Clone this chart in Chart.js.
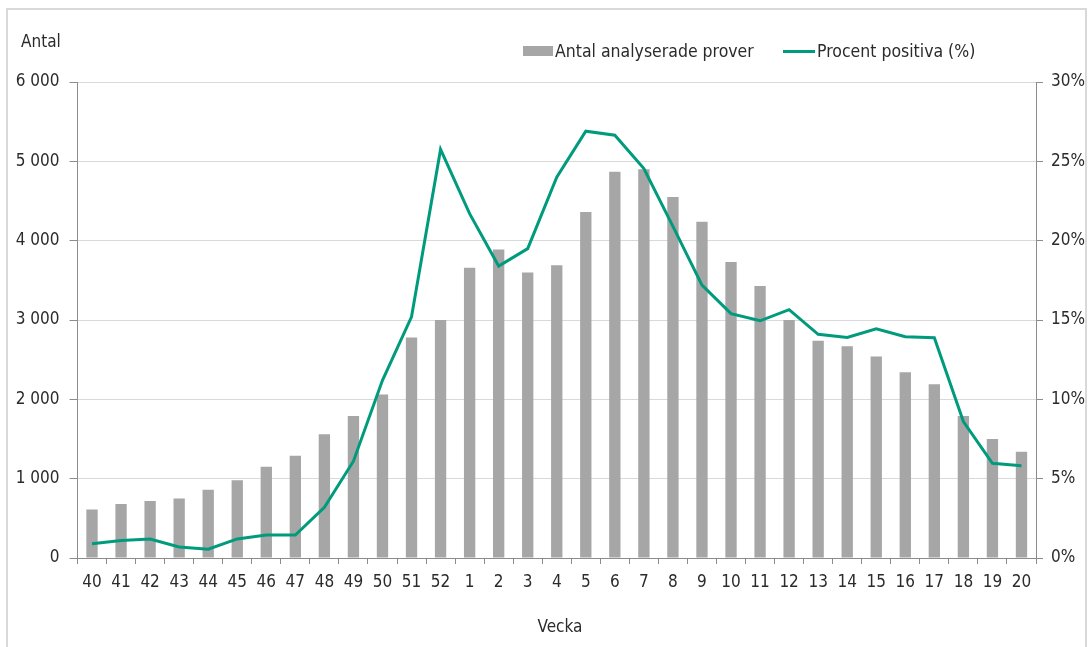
<!DOCTYPE html>
<html lang="sv">
<head>
<meta charset="utf-8">
<title>Antal analyserade prover och procent positiva per vecka</title>
<script src="https://cdn.jsdelivr.net/npm/chart.js@4/dist/chart.umd.min.js"></script>
<style>
  html, body { margin: 0; padding: 0; background: #ffffff; }
  #wrap { width: 1092px; height: 647px; position: relative; }
  canvas { display: block; }
</style>
</head>
<body>
<div id="wrap"><canvas id="chart" width="1092" height="647"></canvas></div>
<script>
// Veckor (säsong v40 – v20)
const weeks = ['40','41','42','43','44','45','46','47','48','49','50','51','52',
               '1','2','3','4','5','6','7','8','9','10','11','12','13','14','15','16','17','18','19','20'];

// Antal analyserade prover per vecka
const samples = [610, 680, 720, 750, 860, 980, 1150, 1290, 1560, 1790, 2060, 2780, 3000,
                 3660, 3890, 3600, 3690, 4360, 4870, 4900, 4550, 4240, 3730, 3430, 3000,
                 2740, 2670, 2540, 2340, 2190, 1790, 1500, 1340];

// Procent positiva (%) per vecka
const positivePct = [0.9, 1.1, 1.2, 0.7, 0.55, 1.2, 1.45, 1.45, 3.2, 6.1, 11.2, 15.2, 25.75,
                     21.7, 18.4, 19.5, 24.0, 26.9, 26.65, 24.55, 20.9, 17.2, 15.4, 14.95, 15.65,
                     14.1, 13.9, 14.45, 13.95, 13.88, 8.6, 5.97, 5.82];

// Axelindelning
const countTicks = [0, 1000, 2000, 3000, 4000, 5000, 6000];
const pctTicks = [0, 5, 10, 15, 20, 25, 30];

const seriesNames = ['Antal analyserade prover', 'Procent positiva (%)'];
const axisTitles = { left: 'Antal', bottom: 'Vecka' };

const BAR_COLOR = '#a6a6a6';
const LINE_COLOR = '#009b7d';
const TEXT_COLOR = '#2b2b2b';
const AXIS_COLOR = '#8c8c8c';
const GRID_COLOR = '#d9d9d9';
const FONT_FAMILY = "'DejaVu Sans Condensed', 'DejaVu Sans', sans-serif";

function fmtThousands(v) {
  return String(v).replace(/\B(?=(\d{3})+(?!\d))/g, ' ');
}

// Ram, axelrubriker och förklaring ritas direkt på canvasen
const decorations = {
  id: 'decorations',
  beforeDraw(chart) {
    const ctx = chart.ctx;
    ctx.save();
    ctx.fillStyle = '#ffffff';
    ctx.fillRect(0, 0, chart.width, chart.height);
    ctx.strokeStyle = '#d9d9d9';
    ctx.lineWidth = 2;
    ctx.strokeRect(7, 9, 1079, 660);
    ctx.restore();
  },
  afterDraw(chart) {
    const ctx = chart.ctx;
    ctx.save();
    ctx.fillStyle = TEXT_COLOR;
    ctx.font = '17px ' + FONT_FAMILY;
    ctx.textBaseline = 'alphabetic';
    ctx.textAlign = 'left';
    ctx.fillText(axisTitles.left, 21, 47);
    ctx.textAlign = 'center';
    ctx.fillText(axisTitles.bottom, 560, 632);

    // förklaring
    ctx.font = '17.5px ' + FONT_FAMILY;
    ctx.textAlign = 'left';
    ctx.fillStyle = BAR_COLOR;
    ctx.fillRect(523, 46, 30, 10);
    ctx.fillStyle = TEXT_COLOR;
    ctx.fillText(seriesNames[0], 555, 57);
    ctx.strokeStyle = LINE_COLOR;
    ctx.lineWidth = 3;
    ctx.beginPath();
    ctx.moveTo(783, 51.5);
    ctx.lineTo(815, 51.5);
    ctx.stroke();
    ctx.fillText(seriesNames[1], 817, 57);
    ctx.restore();
  }
};

new Chart(document.getElementById('chart'), {
  data: {
    labels: weeks,
    datasets: [
      {
        type: 'line',
        label: seriesNames[1],
        data: positivePct,
        yAxisID: 'yPct',
        borderColor: LINE_COLOR,
        backgroundColor: LINE_COLOR,
        borderWidth: 3,
        pointRadius: 0,
        tension: 0,
        order: 0
      },
      {
        type: 'bar',
        label: seriesNames[0],
        data: samples,
        yAxisID: 'yCount',
        backgroundColor: BAR_COLOR,
        borderWidth: 0,
        barPercentage: 0.39,
        categoryPercentage: 1.0,
        order: 1
      }
    ]
  },
  options: {
    responsive: false,
    animation: false,
    devicePixelRatio: 1,
    layout: { padding: { top: 82, left: 0, right: 0, bottom: 0 } },
    plugins: {
      legend: { display: false },
      tooltip: { enabled: false }
    },
    scales: {
      x: {
        type: 'category',
        offset: true,
        grid: {
          offset: true,
          drawOnChartArea: false,
          drawTicks: true,
          tickLength: 6,
          tickColor: AXIS_COLOR
        },
        border: { display: true, color: AXIS_COLOR, width: 1 },
        ticks: {
          color: TEXT_COLOR,
          font: { family: FONT_FAMILY, size: 17 },
          padding: 8,
          maxRotation: 0,
          autoSkip: false
        },
        afterFit(scale) { scale.height = 89; }
      },
      yCount: {
        type: 'linear',
        position: 'left',
        min: 0,
        max: 6000,
        afterBuildTicks(scale) { scale.ticks = countTicks.map(v => ({ value: v })); },
        grid: {
          color: GRID_COLOR,
          lineWidth: 1,
          drawTicks: true,
          tickLength: 8,
          tickColor: AXIS_COLOR
        },
        border: { display: true, color: AXIS_COLOR, width: 1 },
        ticks: {
          color: TEXT_COLOR,
          font: { family: FONT_FAMILY, size: 17 },
          padding: 10,
          callback: v => fmtThousands(v)
        },
        afterFit(scale) { scale.width = 77.5; }
      },
      yPct: {
        type: 'linear',
        position: 'right',
        min: 0,
        max: 30,
        afterBuildTicks(scale) { scale.ticks = pctTicks.map(v => ({ value: v })); },
        grid: {
          drawOnChartArea: false,
          drawTicks: true,
          tickLength: 7,
          tickColor: AXIS_COLOR
        },
        border: { display: true, color: AXIS_COLOR, width: 1 },
        ticks: {
          color: TEXT_COLOR,
          font: { family: FONT_FAMILY, size: 17 },
          padding: 8,
          callback: v => v + '%'
        },
        afterFit(scale) { scale.width = 56; }
      }
    }
  },
  plugins: [decorations]
});
</script>
</body>
</html>
